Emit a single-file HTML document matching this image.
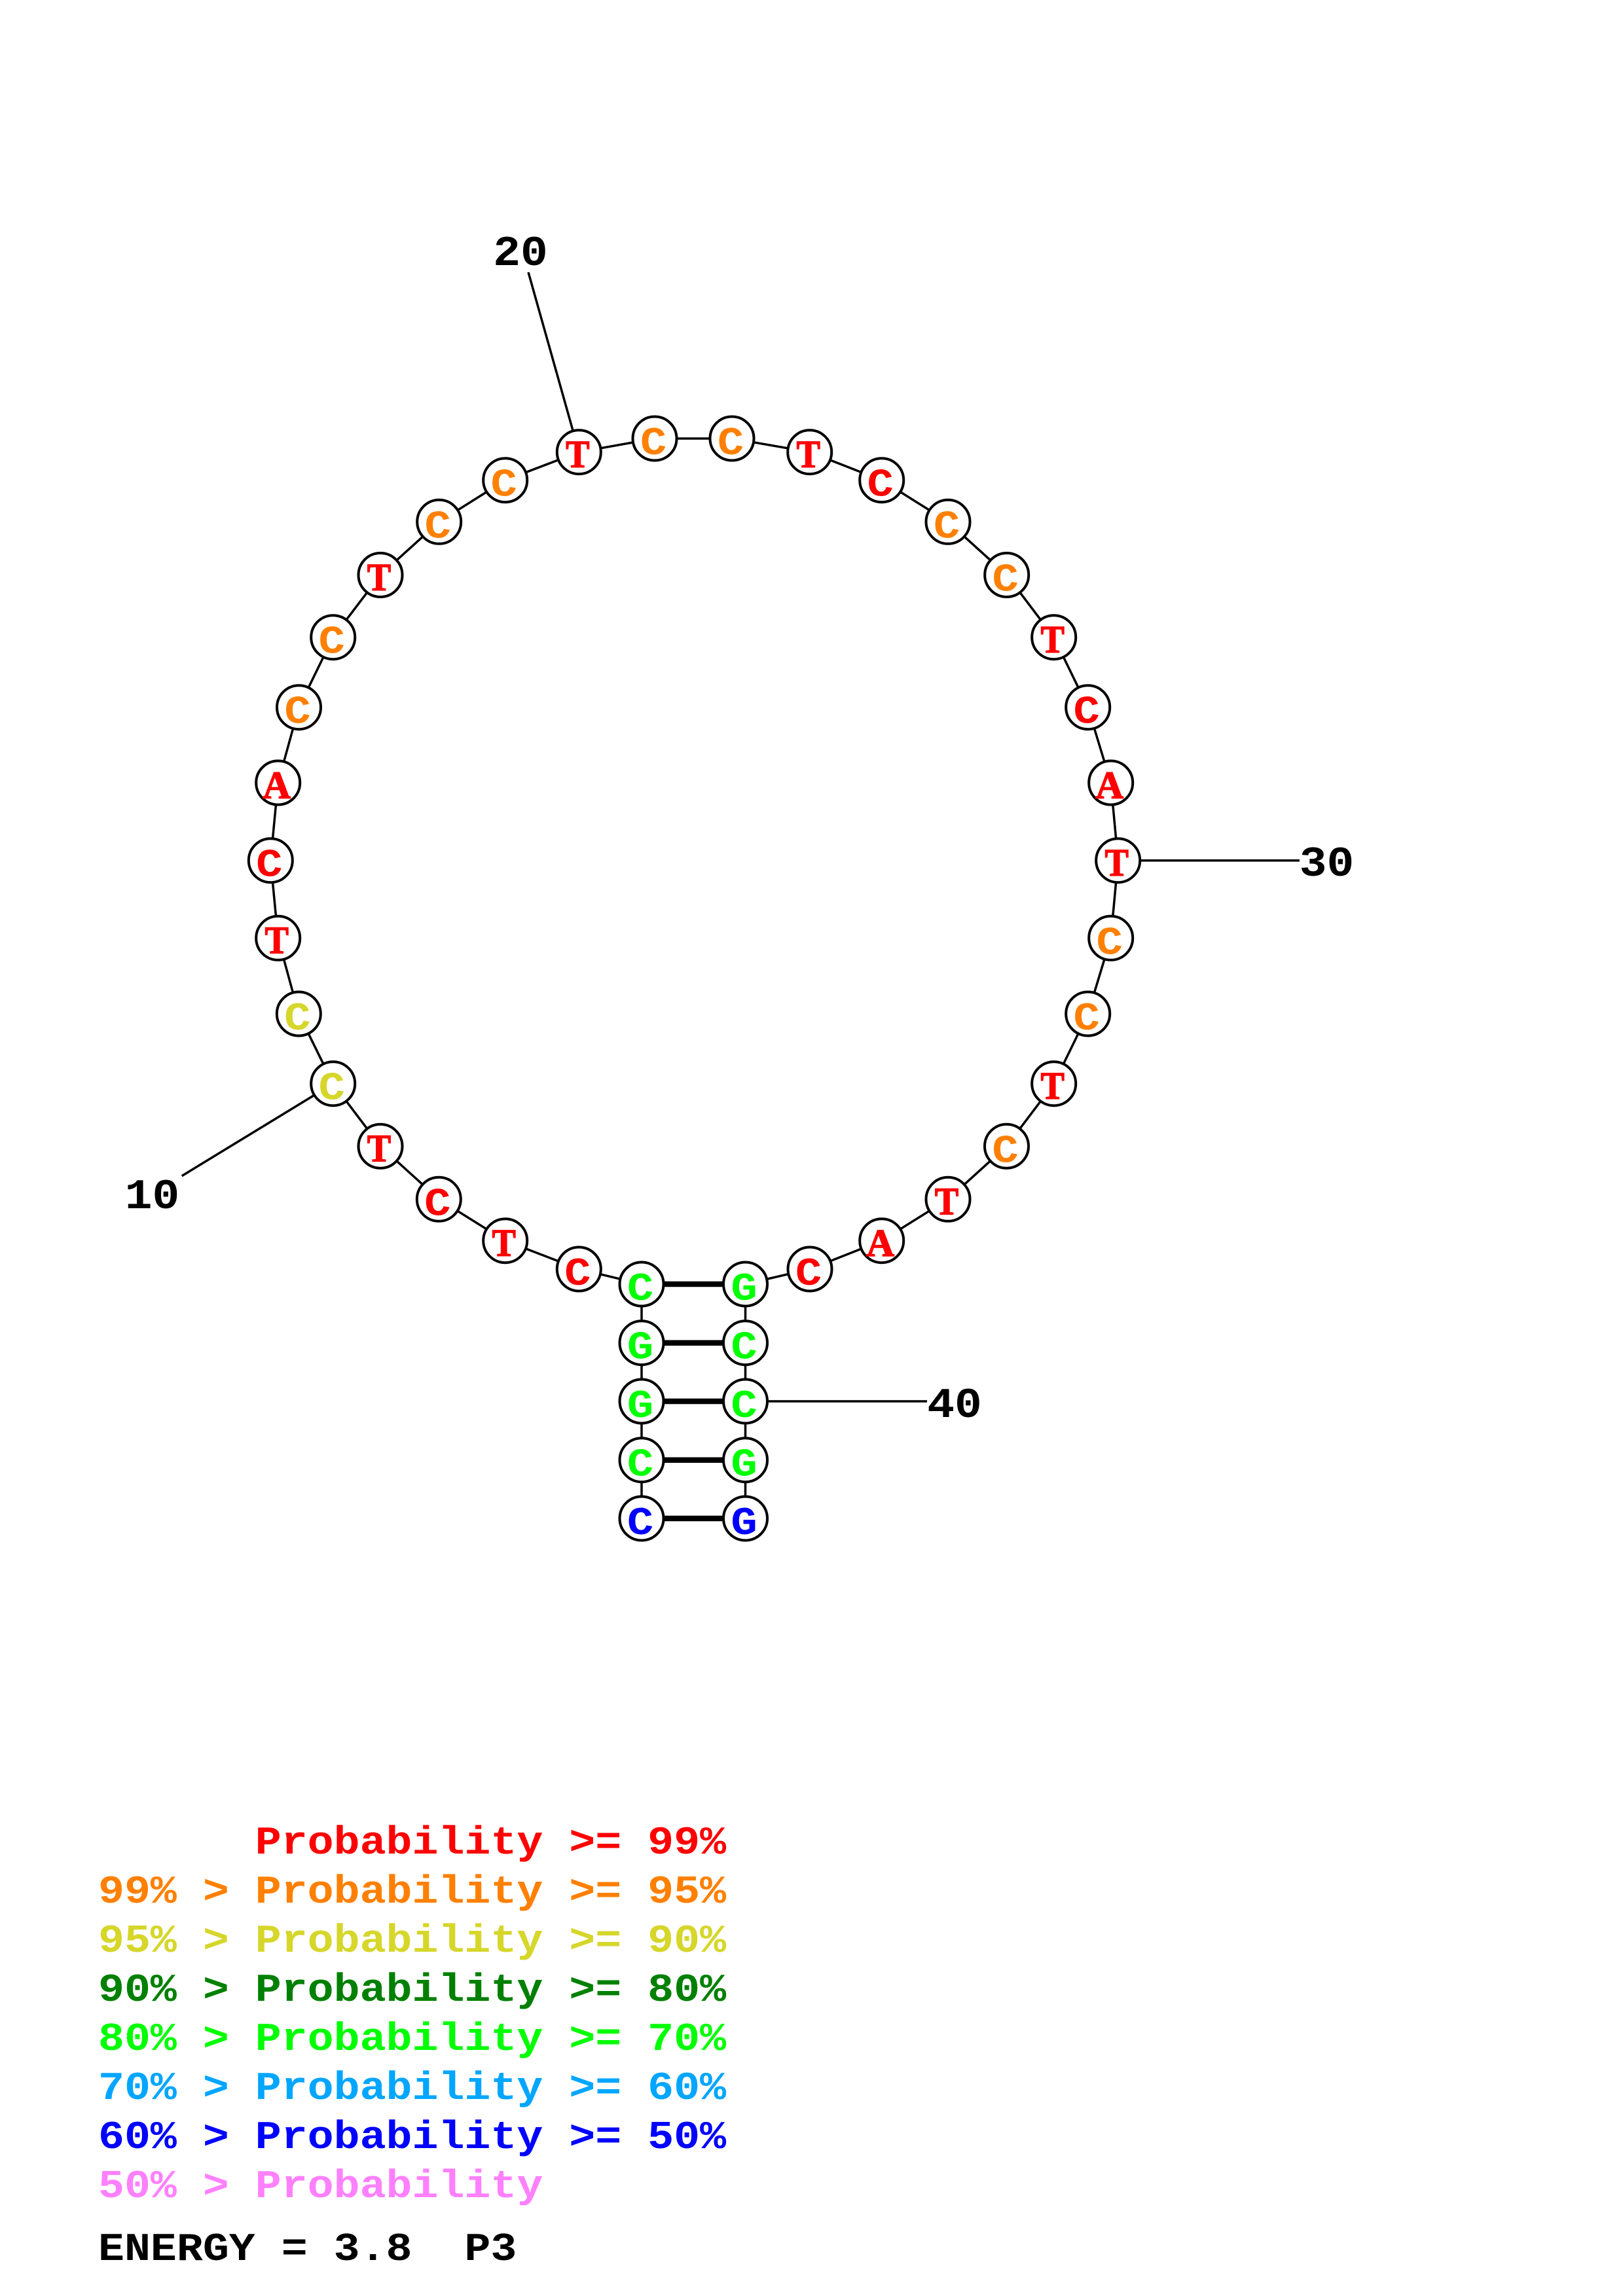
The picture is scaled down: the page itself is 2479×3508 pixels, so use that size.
<!DOCTYPE html>
<html lang="en">
<head>
<meta charset="utf-8">
<title>RNA structure</title>
<style>
html,body{margin:0;padding:0;background:#fff;}
svg{display:block;}
text{font-family:"Liberation Mono",monospace;font-weight:bold;white-space:pre;}
.n{font-size:60px;text-anchor:middle;}
text.s{font-family:"Liberation Serif",serif;font-size:59px;text-anchor:middle;fill:#ff0000;stroke:#ff0000;stroke-width:1.5;}
.l{font-size:65px;text-anchor:middle;fill:#000;}
.t{font-size:60px;}
circle{fill:#fff;stroke:#000;stroke-width:4;}
.r{fill:#ff0000}.o{fill:#ff8000}.y{fill:#d6d62b}.d{fill:#008000}.g{fill:#00ff00}.c{fill:#00a6ff}.b{fill:#0000ff}.p{fill:#ff80ff}.k{fill:#000}
</style>
</head>
<body>
<svg xmlns="http://www.w3.org/2000/svg" width="2479" height="3508" viewBox="0 0 2479 3508">
<rect width="2479" height="3508" fill="#fff"/>
<polyline fill="none" stroke="#000" stroke-width="3.5" points="980,2320 980,2230.7 980,2141 980,2051.7 980,1962 884.3,1939 771.7,1895.7 670.3,1832.3 581,1751.3 508.7,1655.7 456.3,1549 424.7,1433.3 413.3,1314.7 424.7,1196 456.5,1080.7 508.7,973.7 581,878.5 670.7,797.3 771.7,733.7 884.3,690.7 1000,670 1118,670 1236.7,690.7 1346.7,733.7 1448,797.3 1537.7,878.5 1609.7,973.7 1661.7,1080.7 1696.7,1196 1707.7,1314.7 1696.7,1433.3 1661.7,1549 1609.7,1655.7 1537.5,1751.3 1448,1832.3 1346.7,1895.7 1237,1939 1138.5,1962 1138.5,2051.7 1138.5,2141 1138.5,2230.7 1138.5,2320"/>
<g stroke="#000" stroke-width="8.5">
<line x1="980" y1="1962" x2="1138.5" y2="1962"/>
<line x1="980" y1="2051.7" x2="1138.5" y2="2051.7"/>
<line x1="980" y1="2141" x2="1138.5" y2="2141"/>
<line x1="980" y1="2230.7" x2="1138.5" y2="2230.7"/>
<line x1="980" y1="2320" x2="1138.5" y2="2320"/>
</g>
<g stroke="#000" stroke-width="3.5">
<line x1="277.7" y1="1796.7" x2="508.7" y2="1655.7"/>
<line x1="807" y1="416" x2="884.3" y2="690.7"/>
<line x1="1707.7" y1="1314.7" x2="1985" y2="1314.7"/>
<line x1="1138.5" y1="2141" x2="1416" y2="2141"/>
</g>
<g>
<circle cx="980" cy="2320" r="33.5"/><circle cx="980" cy="2230.7" r="33.5"/><circle cx="980" cy="2141" r="33.5"/><circle cx="980" cy="2051.7" r="33.5"/><circle cx="980" cy="1962" r="33.5"/>
<circle cx="884.3" cy="1939" r="33.5"/><circle cx="771.7" cy="1895.7" r="33.5"/><circle cx="670.3" cy="1832.3" r="33.5"/><circle cx="581" cy="1751.3" r="33.5"/><circle cx="508.7" cy="1655.7" r="33.5"/>
<circle cx="456.3" cy="1549" r="33.5"/><circle cx="424.7" cy="1433.3" r="33.5"/><circle cx="413.3" cy="1314.7" r="33.5"/><circle cx="424.7" cy="1196" r="33.5"/><circle cx="456.5" cy="1080.7" r="33.5"/>
<circle cx="508.7" cy="973.7" r="33.5"/><circle cx="581" cy="878.5" r="33.5"/><circle cx="670.7" cy="797.3" r="33.5"/><circle cx="771.7" cy="733.7" r="33.5"/><circle cx="884.3" cy="690.7" r="33.5"/>
<circle cx="1000" cy="670" r="33.5"/><circle cx="1118" cy="670" r="33.5"/><circle cx="1236.7" cy="690.7" r="33.5"/><circle cx="1346.7" cy="733.7" r="33.5"/><circle cx="1448" cy="797.3" r="33.5"/>
<circle cx="1537.7" cy="878.5" r="33.5"/><circle cx="1609.7" cy="973.7" r="33.5"/><circle cx="1661.7" cy="1080.7" r="33.5"/><circle cx="1696.7" cy="1196" r="33.5"/><circle cx="1707.7" cy="1314.7" r="33.5"/>
<circle cx="1696.7" cy="1433.3" r="33.5"/><circle cx="1661.7" cy="1549" r="33.5"/><circle cx="1609.7" cy="1655.7" r="33.5"/><circle cx="1537.5" cy="1751.3" r="33.5"/><circle cx="1448" cy="1832.3" r="33.5"/>
<circle cx="1346.7" cy="1895.7" r="33.5"/><circle cx="1237" cy="1939" r="33.5"/><circle cx="1138.5" cy="1962" r="33.5"/><circle cx="1138.5" cy="2051.7" r="33.5"/><circle cx="1138.5" cy="2141" r="33.5"/>
<circle cx="1138.5" cy="2230.7" r="33.5"/><circle cx="1138.5" cy="2320" r="33.5"/>
</g>
<g>
<text class="n b" transform="translate(978 2344) scale(1.12 1)">C</text>
<text class="n g" transform="translate(978 2254.7) scale(1.12 1)">C</text>
<text class="n g" transform="translate(978 2165) scale(1.12 1)">G</text>
<text class="n g" transform="translate(978 2075.7) scale(1.12 1)">G</text>
<text class="n g" transform="translate(978 1986) scale(1.12 1)">C</text>
<text class="n r" transform="translate(882.3 1963) scale(1.12 1)">C</text>
<text class="s" transform="translate(769.7 1919) scale(.92 1)">T</text>
<text class="n r" transform="translate(668.3 1856.3) scale(1.12 1)">C</text>
<text class="s" transform="translate(579 1774.6) scale(.92 1)">T</text>
<text class="n y" transform="translate(506.7 1679.7) scale(1.12 1)">C</text>
<text class="n y" transform="translate(454.3 1573) scale(1.12 1)">C</text>
<text class="s" transform="translate(422.7 1456.6) scale(.92 1)">T</text>
<text class="n r" transform="translate(411.3 1338.7) scale(1.12 1)">C</text>
<text class="s" transform="translate(422.7 1219.3)">A</text>
<text class="n o" transform="translate(454.5 1104.7) scale(1.12 1)">C</text>
<text class="n o" transform="translate(506.7 997.7) scale(1.12 1)">C</text>
<text class="s" transform="translate(579 901.8) scale(.92 1)">T</text>
<text class="n o" transform="translate(668.7 821.3) scale(1.12 1)">C</text>
<text class="n o" transform="translate(769.7 757.7) scale(1.12 1)">C</text>
<text class="s" transform="translate(882.3 714) scale(.92 1)">T</text>
<text class="n o" transform="translate(998 694) scale(1.12 1)">C</text>
<text class="n o" transform="translate(1116 694) scale(1.12 1)">C</text>
<text class="s" transform="translate(1234.7 714) scale(.92 1)">T</text>
<text class="n r" transform="translate(1344.7 757.7) scale(1.12 1)">C</text>
<text class="n o" transform="translate(1446 821.3) scale(1.12 1)">C</text>
<text class="n o" transform="translate(1535.7 902.5) scale(1.12 1)">C</text>
<text class="s" transform="translate(1607.7 997) scale(.92 1)">T</text>
<text class="n r" transform="translate(1659.7 1104.7) scale(1.12 1)">C</text>
<text class="s" transform="translate(1694.7 1219.3)">A</text>
<text class="s" transform="translate(1705.7 1338) scale(.92 1)">T</text>
<text class="n o" transform="translate(1694.7 1457.3) scale(1.12 1)">C</text>
<text class="n o" transform="translate(1659.7 1573) scale(1.12 1)">C</text>
<text class="s" transform="translate(1607.7 1679) scale(.92 1)">T</text>
<text class="n o" transform="translate(1535.5 1775.3) scale(1.12 1)">C</text>
<text class="s" transform="translate(1446 1855.6) scale(.92 1)">T</text>
<text class="s" transform="translate(1344.7 1919)">A</text>
<text class="n r" transform="translate(1235 1963) scale(1.12 1)">C</text>
<text class="n g" transform="translate(1136.5 1986) scale(1.12 1)">G</text>
<text class="n g" transform="translate(1136.5 2075.7) scale(1.12 1)">C</text>
<text class="n g" transform="translate(1136.5 2165) scale(1.12 1)">C</text>
<text class="n g" transform="translate(1136.5 2254.7) scale(1.12 1)">G</text>
<text class="n b" transform="translate(1136.5 2344) scale(1.12 1)">G</text>
</g>
<text class="l" transform="translate(232.5 1846) scale(1.07 1)">10</text>
<text class="l" transform="translate(795 405) scale(1.07 1)">20</text>
<text class="l" transform="translate(2026.5 1338) scale(1.07 1)">30</text>
<text class="l" transform="translate(1458 2165) scale(1.07 1)">40</text>
<g>
<text class="t r" transform="translate(150 2832) scale(1.11 1)">      Probability &gt;= 99%</text>
<text class="t o" transform="translate(150 2907) scale(1.11 1)">99% &gt; Probability &gt;= 95%</text>
<text class="t y" transform="translate(150 2982) scale(1.11 1)">95% &gt; Probability &gt;= 90%</text>
<text class="t d" transform="translate(150 3057) scale(1.11 1)">90% &gt; Probability &gt;= 80%</text>
<text class="t g" transform="translate(150 3132) scale(1.11 1)">80% &gt; Probability &gt;= 70%</text>
<text class="t c" transform="translate(150 3207) scale(1.11 1)">70% &gt; Probability &gt;= 60%</text>
<text class="t b" transform="translate(150 3282) scale(1.11 1)">60% &gt; Probability &gt;= 50%</text>
<text class="t p" transform="translate(150 3357) scale(1.11 1)">50% &gt; Probability</text>
<text class="t k" transform="translate(150 3453) scale(1.11 1)">ENERGY = 3.8  P3</text>
</g>
</svg>
</body>
</html>
